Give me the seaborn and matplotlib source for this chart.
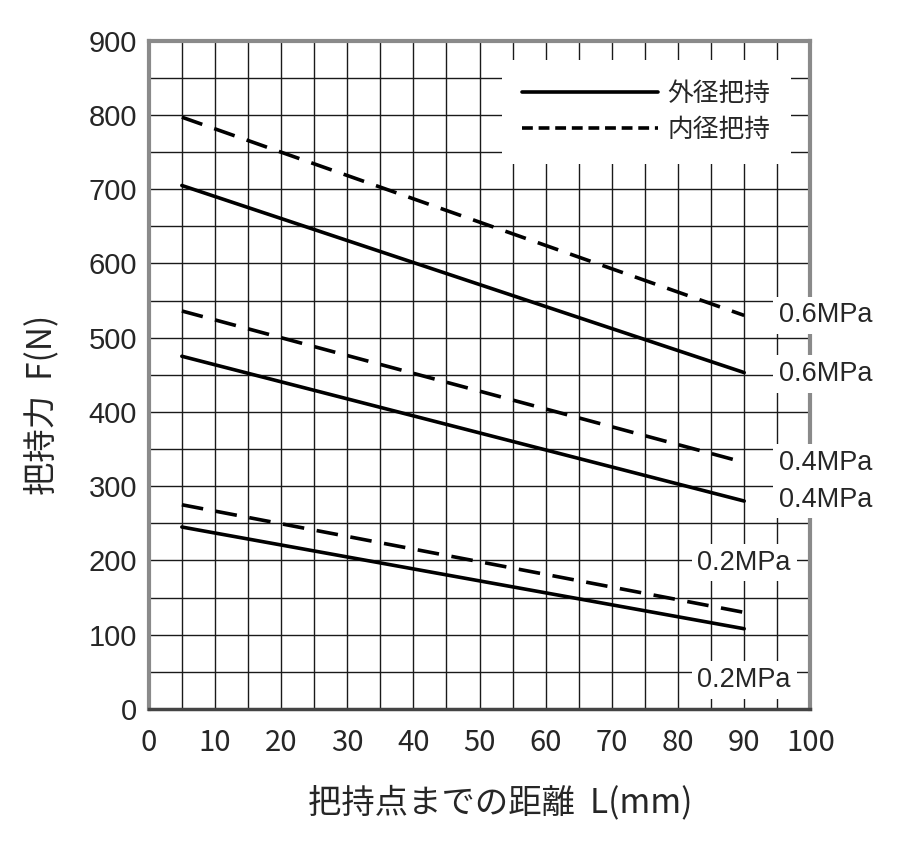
import numpy as np
import pandas as pd
import seaborn as sns
import matplotlib.pyplot as plt
from matplotlib.lines import Line2D

# values
distance = [5, 90]
outer_06 = [705, 453]
inner_06 = [797, 530]
outer_04 = [475, 280]
inner_04 = [536, 332]
outer_02 = [245, 108]
inner_02 = [275, 130]

series = [
    ("0.6MPa", "外径把持", outer_06),
    ("0.6MPa", "内径把持", inner_06),
    ("0.4MPa", "外径把持", outer_04),
    ("0.4MPa", "内径把持", inner_04),
    ("0.2MPa", "外径把持", outer_02),
    ("0.2MPa", "内径把持", inner_02),
]

rows = []
for pressure, grip, vals in series:
    for x, y in zip(distance, vals):
        rows.append({"L": x, "F": y, "pressure": pressure, "grip": grip})
df = pd.DataFrame(rows)

sns.set_style("white")
plt.rcParams["font.family"] = ["Noto Sans CJK JP", "DejaVu Sans"]

fig = plt.figure(figsize=(9.24, 8.48), dpi=100)
ax = fig.add_axes([0.161, 0.164, 0.716, 0.788])

dash_style = (6, 3.5)
for (pressure, grip), part in df.groupby(["pressure", "grip"]):
    sns.lineplot(data=part, x="L", y="F", ax=ax, color="black", lw=2.6, legend=False)
    if grip == "内径把持":
        ax.lines[-1].set_dashes(dash_style)

ax.set_xlim(0, 100)
ax.set_ylim(0, 900)
ax.set_xticks(np.arange(0, 101, 10))
ax.set_yticks(np.arange(0, 901, 100))
ax.set_xticks(np.arange(0, 101, 5), minor=True)
ax.set_yticks(np.arange(0, 901, 50), minor=True)
ax.grid(True, which="both", color="#1a1a1a", lw=1.0)
ax.set_axisbelow(True)
ax.tick_params(axis="both", which="major", labelsize=21, direction="inout", length=10, width=1.2, color="black")
ax.tick_params(axis="both", which="minor", length=0)
ax.tick_params(axis="x", pad=9)
for lbl in ax.get_yticklabels():
    lbl.set_family(["Liberation Sans", "DejaVu Sans"])
    lbl.set_fontsize(21)
for side in ["left", "top", "right"]:
    ax.spines[side].set_color("#8a8a8a")
    ax.spines[side].set_linewidth(3)
ax.spines["bottom"].set_color("#444444")
ax.spines["bottom"].set_linewidth(2.5)

ax.set_xlabel("把持点までの距離  L(mm)", fontsize=24)
ax.xaxis.set_label_coords(0.531, -0.115)
ax.set_ylabel("把持力  F(N)", fontsize=24)
ax.yaxis.set_label_coords(-0.135, 0.455)

# pressure labels
label_pos = [
    (102.3, 530, "0.6MPa"),
    (102.3, 451, "0.6MPa"),
    (102.3, 331, "0.4MPa"),
    (102.3, 282, "0.4MPa"),
    (90.0, 197, "0.2MPa"),
    (90.0, 39, "0.2MPa"),
]
for x, y, txt in label_pos:
    ax.text(x, y, txt, fontsize=19.5, family=["Liberation Sans", "DejaVu Sans"],
            ha="center", va="center", clip_on=False, zorder=6,
            bbox=dict(facecolor="white", edgecolor="none", pad=4))

handles = [
    Line2D([], [], color="black", lw=2.6),
    Line2D([], [], color="black", lw=2.6, dashes=(3, 1.6)),
]
leg = ax.legend(handles, ["外径把持", "内径把持"], loc="upper right", bbox_to_anchor=(0.99, 0.99),
                fontsize=18.5, handlelength=5.3, handletextpad=0.35, frameon=True,
                fancybox=False, edgecolor="none", framealpha=1, borderpad=0.8, labelspacing=0.4)
leg.set_zorder(7)

fig.savefig("out.png", dpi=100, facecolor="white")
plt.close(fig)
